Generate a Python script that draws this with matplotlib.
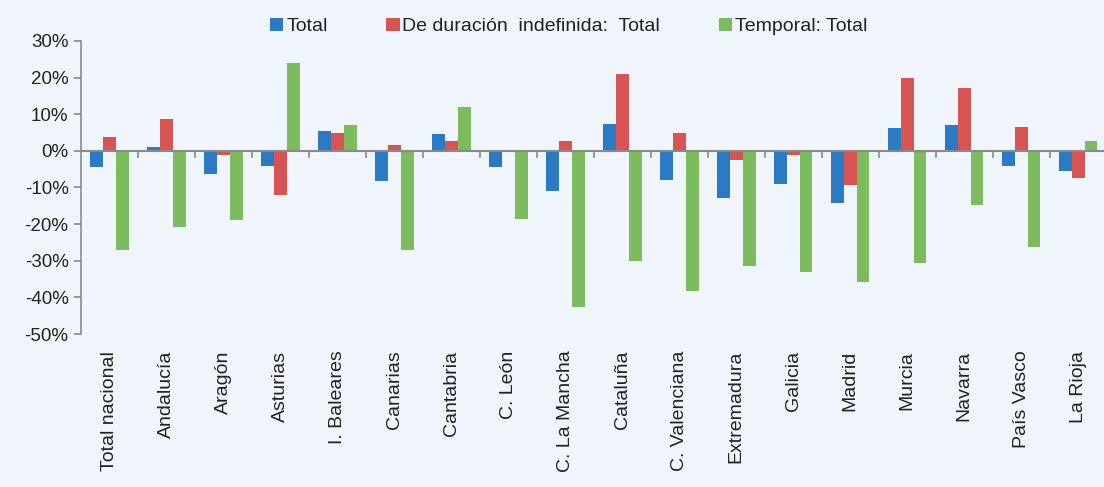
import numpy as np
import matplotlib
matplotlib.use("Agg")
import matplotlib.pyplot as plt
from matplotlib.ticker import FuncFormatter

regions = ["Total nacional", "Andalucía", "Aragón", "Asturias", "I. Baleares",
           "Canarias", "Cantabria", "C. León", "C. La Mancha", "Cataluña",
           "C. Valenciana", "Extremadura", "Galicia", "Madrid", "Murcia",
           "Navarra", "País Vasco", "La Rioja"]

total = [-4.5, 1.1, -6.2, -4.0, 5.3, -8.3, 4.5, -4.5, -10.9, 7.4,
         -7.9, -13.0, -9.1, -14.3, 6.2, 7.1, -4.0, -5.4]
indefinida = [3.7, 8.8, -1.1, -12.1, 4.9, 1.5, 2.8, 0.0, 2.8, 21.1,
              4.9, -2.4, -1.0, -9.2, 19.8, 17.2, 6.6, -7.5]
temporal = [-27.1, -20.7, -18.9, 24.1, 7.1, -27.1, 12.1, -18.6, -42.5, -30.1,
            -38.2, -31.3, -33.1, -35.7, -30.5, -14.7, -26.3, 2.8]

series_names = ["Total", "De duración  indefinida:  Total", "Temporal: Total"]
colors = ["#2a7bc4", "#d75452", "#7cbc5e"]
bg = "#f0f5fc"

plt.rcParams["font.family"] = ["Liberation Sans", "DejaVu Sans"]

fig = plt.figure(figsize=(11.04, 4.87), dpi=100, facecolor=bg)
ax = fig.add_axes([0.0734, 0.314, 0.929, 0.602])
ax.set_facecolor(bg)

x = np.arange(len(regions))
w = 0.225
for i, (vals, name, c) in enumerate(zip([total, indefinida, temporal], series_names, colors)):
    ax.bar(x + (i - 1) * w, vals, width=w, color=c, label=name, zorder=2)

ax.set_xlim(-0.5, len(regions) - 0.5)
ax.set_ylim(-50, 30)
ax.set_yticks(np.arange(-50, 31, 10))
ax.yaxis.set_major_formatter(FuncFormatter(lambda v, p: f"{v:.0f}%"))
ax.tick_params(axis="y", labelsize=13.5, colors="#888888", labelcolor="#222222",
               length=5, width=1.2, pad=4)

ax.axhline(0, color="#8a8a8a", lw=1.5, zorder=3)
for k in range(1, len(regions)):
    ax.plot([k - 0.5, k - 0.5], [0, -1.6], color="#8a8a8a", lw=1.2, zorder=3)

ax.set_xticks(x)
ax.set_xticklabels(regions, rotation=90, fontsize=14, color="#222222")
ax.tick_params(axis="x", length=0, pad=12)

for s in ["top", "right", "bottom"]:
    ax.spines[s].set_visible(False)
ax.spines["left"].set_color("#8a8a8a")
ax.spines["left"].set_linewidth(1.2)

fig.legend(loc="upper center", bbox_to_anchor=(0.515, 1.0), ncol=3, frameon=False,
           fontsize=14, handlelength=0.7, handleheight=0.7, handletextpad=0.15,
           columnspacing=3.0, labelcolor="#222222")

fig.savefig("out.png", dpi=100, facecolor=bg)
